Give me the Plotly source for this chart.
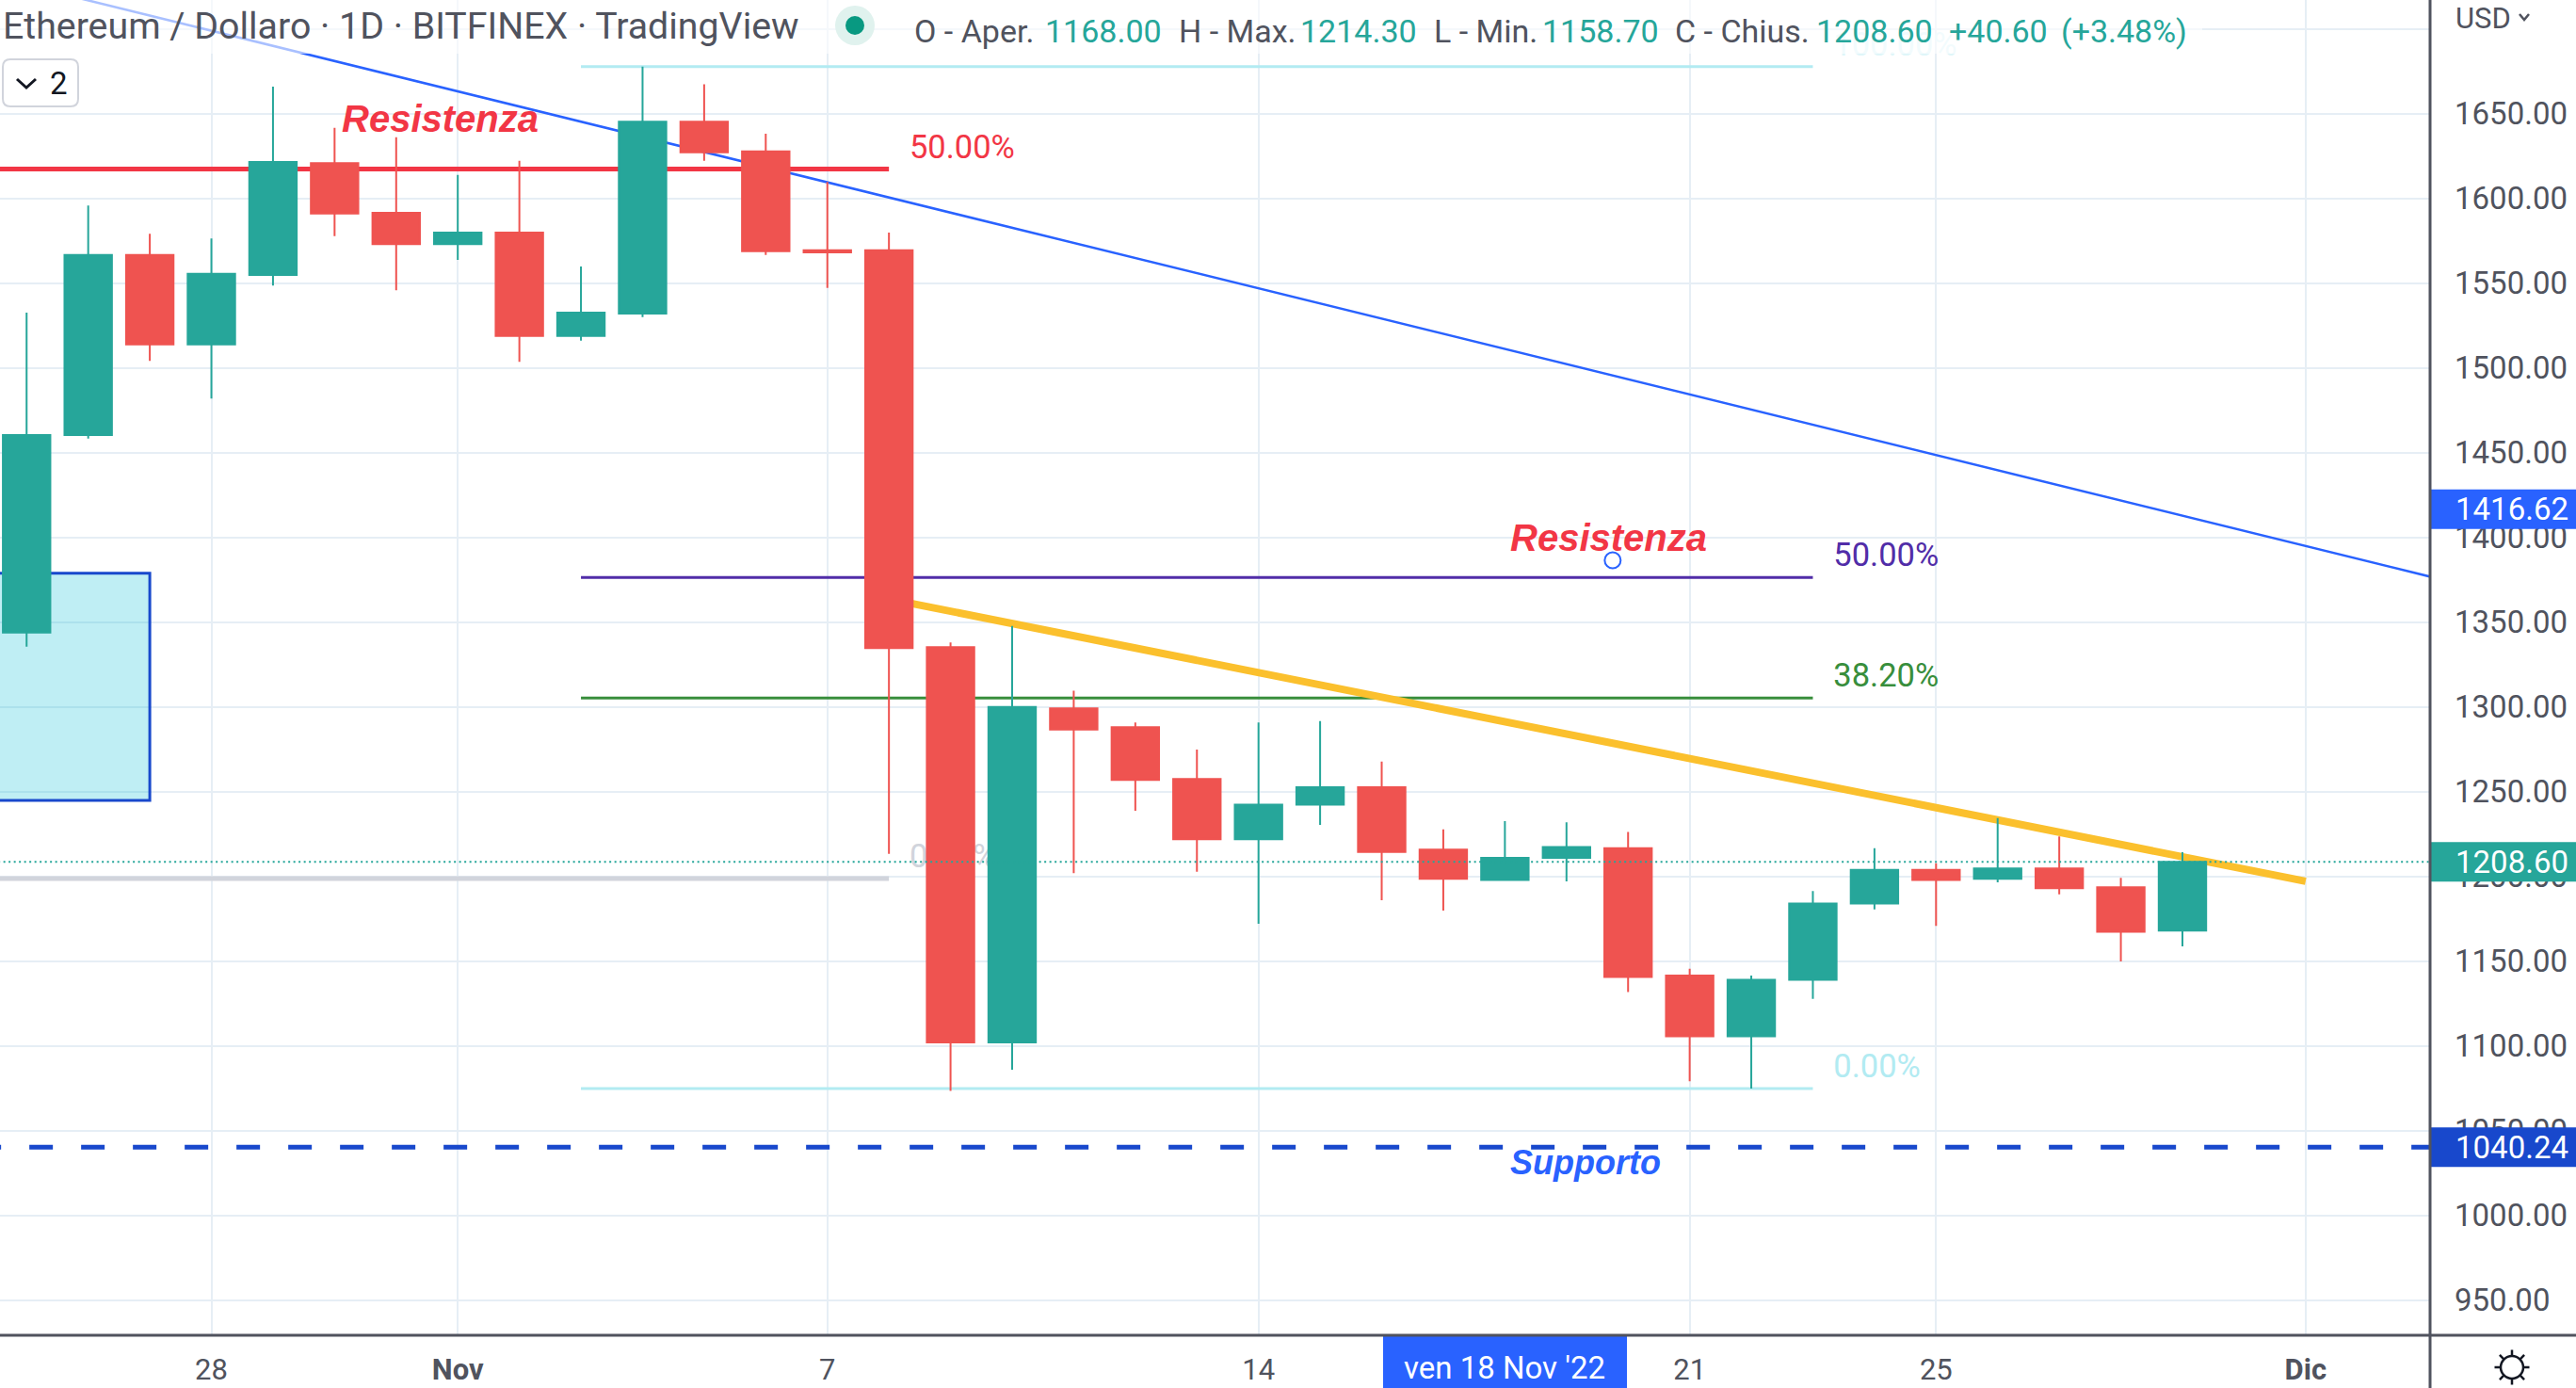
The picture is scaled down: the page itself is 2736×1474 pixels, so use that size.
import math

import pandas as pd
import plotly.graph_objects as graph_objects

WIDTH = 2736
HEIGHT = 1474
PLOT_WIDTH = 2581
PLOT_HEIGHT = 1418

# Daily candles
candle_dates = pd.date_range("2022-10-25", "2022-11-29", freq="D")
open_prices = [1343.9, 1460.4, 1566.7, 1513.9, 1554.8, 1620.8, 1591.5, 1573.0, 1579.8, 1518.9, 1532.0, 1645.2,
               1627.8, 1569.4, 1569.4, 1335.3, 1102.1, 1299.2, 1288.1, 1257.5, 1222.0, 1242.3, 1252.6, 1215.8,
               1197.9, 1210.9, 1216.6, 1141.5, 1105.7, 1139.0, 1184.0, 1203.9, 1198.6, 1204.7, 1193.6, 1168.0]
high_prices = [1532.6, 1595.8, 1579.1, 1576.3, 1666.0, 1641.7, 1636.1, 1613.9, 1622.2, 1559.8, 1677.8, 1667.4,
               1638.2, 1609.7, 1579.8, 1338.0, 1347.8, 1309.6, 1290.8, 1274.9, 1290.8, 1291.6, 1267.8, 1227.7,
               1232.6, 1232.0, 1226.3, 1145.6, 1141.5, 1191.4, 1216.6, 1207.8, 1234.5, 1223.6, 1199.2, 1214.3]
low_prices = [1335.6, 1458.3, 1504.1, 1481.9, 1548.6, 1577.8, 1545.8, 1563.7, 1503.6, 1516.1, 1530.0, 1622.2,
              1566.7, 1547.2, 1213.3, 1073.5, 1086.0, 1201.9, 1238.8, 1202.7, 1172.1, 1230.4, 1186.0, 1179.9,
              1197.9, 1197.1, 1131.8, 1079.1, 1074.9, 1127.7, 1180.5, 1170.8, 1196.5, 1189.5, 1149.9, 1158.7]
close_prices = [1460.4, 1566.7, 1513.9, 1555.6, 1621.5, 1591.1, 1573.0, 1579.8, 1518.9, 1532.6, 1645.2, 1627.2,
                1568.9, 1568.2, 1334.7, 1102.1, 1300.0, 1286.7, 1256.9, 1222.0, 1242.3, 1252.6, 1214.4, 1198.6,
                1210.9, 1217.3, 1140.7, 1105.7, 1139.0, 1184.0, 1203.9, 1197.9, 1204.7, 1193.0, 1167.3, 1208.6]

# Axis ticks
x_tick_dates = ["2022-10-28", "2022-11-01", "2022-11-07", "2022-11-14", "2022-11-21", "2022-11-25", "2022-12-01"]
x_tick_labels = ["28", "<b>Nov</b>", "7", "14", "21", "25", "<b>Dic</b>"]
y_tick_values = [950, 1000, 1050, 1100, 1150, 1200, 1250, 1300, 1350, 1400, 1450, 1500, 1550, 1600, 1650, 1700]
y_tick_labels = [f"{v:.2f}" for v in y_tick_values[:-1]] + [""]

# Drawings on the chart
blue_trend_dates = ["2022-10-24", "2022-12-04"]
blue_trend_prices = [1734.7, 1368.1]
yellow_trend_dates = ["2022-11-08", "2022-12-01"]
yellow_trend_prices = [1363.7, 1197.1]
resistance_dates = ["2022-10-20", "2022-11-08"]
resistance_price = 1617.4
grey_level_price = 1198.7
support_price = 1040.24
last_price = 1208.60
blue_label_price = 1416.62
zone_dates = ["2022-10-20", "2022-10-27", "2022-10-27", "2022-10-20"]
zone_prices = [1378.9, 1378.9, 1244.8, 1244.8]
fib_dates = ["2022-11-03", "2022-11-23"]
fib_prices = [1677.8, 1376.4, 1305.2, 1074.9]
fib_labels = ["100.00%", "50.00%", "38.20%", "0.00%"]
fib_line_colors = ["#b2ebf2", "#512da8", "#388e3c", "#b2ebf2"]
fib_text_colors = ["#dff6f9", "#512da8", "#388e3c", "#b2ebf2"]
full_width_dates = ["2022-10-20", "2022-12-05"]

GREEN = "#26a69a"
RED = "#ef5350"
TEXT = "#50535e"
GRID = "#e6eef5"
BLUE = "#2962ff"
DARK_BLUE = "#1848cc"
LINE_RED = "#f23645"
INK = "#131722"
FONT = "Roboto"
LABEL_FONT = "Liberation Sans"
LABEL_LIFT = 1.8  # fib labels sit this many price units above their line


def paper_x(pixel):
    # paper coordinates follow the plot area, not the page
    return pixel / PLOT_WIDTH


def paper_y(pixel):
    return 1 - pixel / PLOT_HEIGHT


def paper_point(x_pixel, y_pixel):
    return f"{paper_x(x_pixel)} {paper_y(y_pixel)}"


def line_trace(x_values, y_values, color, width, dash="solid", yaxis="y"):
    return graph_objects.Scatter(
        x=x_values, y=y_values, mode="lines", yaxis=yaxis, hoverinfo="skip",
        line=dict(color=color, width=width, dash=dash),
    )


def text_trace(date, price, label, color, size=34.5):
    return graph_objects.Scatter(
        x=[date], y=[price + LABEL_LIFT], mode="text", text=[label], textposition="top right", hoverinfo="skip",
        textfont=dict(family=FONT, size=size, color=color),
    )


def gear_path(center_x, center_y, inner, outer):
    parts = []
    for step in range(8):
        angle = step * math.pi / 4
        parts.append("M " + paper_point(center_x + inner * math.cos(angle), center_y + inner * math.sin(angle)))
        parts.append("L " + paper_point(center_x + outer * math.cos(angle), center_y + outer * math.sin(angle)))
    return " ".join(parts)


def rounded_rect_path(left, top, right, bottom, radius):
    return (
        f"M {paper_point(left + radius, top)} L {paper_point(right - radius, top)} "
        f"Q {paper_point(right, top)} {paper_point(right, top + radius)} L {paper_point(right, bottom - radius)} "
        f"Q {paper_point(right, bottom)} {paper_point(right - radius, bottom)} L {paper_point(left + radius, bottom)} "
        f"Q {paper_point(left, bottom)} {paper_point(left, bottom - radius)} L {paper_point(left, top + radius)} "
        f"Q {paper_point(left, top)} {paper_point(left + radius, top)} Z"
    )


fig = graph_objects.Figure()

# Everything behind the candles stays on the base y axis
fig.add_trace(graph_objects.Scatter(
    x=zone_dates, y=zone_prices, mode="lines", fill="toself", fillcolor="rgba(0,188,212,0.25)",
    line=dict(color=DARK_BLUE, width=3), hoverinfo="skip",
))
for price, color in zip(fib_prices, fib_line_colors):
    fig.add_trace(line_trace(fib_dates, [price, price], color, 3))
for price, label, color in zip(fib_prices, fib_labels, fib_text_colors):
    fig.add_trace(text_trace("2022-11-23 08:00", price, label, color))
fig.add_trace(line_trace(resistance_dates, [resistance_price, resistance_price], LINE_RED, 5))
fig.add_trace(text_trace("2022-11-08 08:00", resistance_price, "50.00%", LINE_RED))
fig.add_trace(line_trace(resistance_dates, [grey_level_price, grey_level_price], "#d1d4dc", 5))
fig.add_trace(text_trace("2022-11-08 08:00", grey_level_price, "0.00%", "#d1d4dc"))
fig.add_trace(line_trace(blue_trend_dates, blue_trend_prices, BLUE, 2.5))
fig.add_trace(line_trace(yellow_trend_dates, yellow_trend_prices, "#fbc02d", 8))
fig.add_trace(line_trace(full_width_dates, [support_price, support_price], DARK_BLUE, 5, "25px,30px"))
fig.add_trace(graph_objects.Scatter(
    x=["2022-11-19 18:00"], y=[1386.5], mode="markers", hoverinfo="skip",
    marker=dict(color="white", size=17, line=dict(color=BLUE, width=2)),
))

# Candles on an overlaid y axis, since box layers sit under scatter layers
fig.add_trace(graph_objects.Candlestick(
    x=candle_dates, open=open_prices, high=high_prices, low=low_prices, close=close_prices, yaxis="y2",
    increasing=dict(line=dict(color=GREEN, width=2), fillcolor=GREEN),
    decreasing=dict(line=dict(color=RED, width=2), fillcolor=RED),
    hoverinfo="skip",
))
fig.add_trace(line_trace(full_width_dates, [last_price, last_price], GREEN, 2, "2px,3.5px", yaxis="y2"))

# Shapes: legend veil, button, axis frame, price boxes
shapes = [
    dict(type="rect", xref="paper", yref="paper", x0=0, x1=paper_x(2339), y0=paper_y(57), y1=1,
         fillcolor="rgba(255,255,255,0.6)", line=dict(width=0), layer="above"),
    dict(type="circle", xref="paper", yref="paper", x0=paper_x(887), x1=paper_x(929), y0=paper_y(48), y1=paper_y(6),
         fillcolor="#e0f2ee", line=dict(width=0), layer="above"),
    dict(type="circle", xref="paper", yref="paper", x0=paper_x(898), x1=paper_x(918), y0=paper_y(37), y1=paper_y(17),
         fillcolor="#089981", line=dict(width=0), layer="above"),
    dict(type="path", xref="paper", yref="paper", layer="above", fillcolor="white", line=dict(color="#d1d4dc", width=2),
         path=rounded_rect_path(3, 63, 83, 113, 8)),
    dict(type="path", xref="paper", yref="paper", layer="above", line=dict(color=INK, width=3),
         path=f"M {paper_point(18, 84)} L {paper_point(28, 93)} L {paper_point(38, 84)}"),
    dict(type="path", xref="paper", yref="paper", layer="above", line=dict(color=TEXT, width=2.5),
         path=f"M {paper_point(2676, 15)} L {paper_point(2681, 21)} L {paper_point(2686, 15)}"),
    dict(type="rect", xref="paper", yref="paper", x0=paper_x(1469), x1=paper_x(1728), y0=paper_y(HEIGHT), y1=paper_y(1418),
         fillcolor=BLUE, line=dict(width=0), layer="above"),
    dict(type="circle", xref="paper", yref="paper", x0=paper_x(2656), x1=paper_x(2680), y0=paper_y(1464), y1=paper_y(1440),
         fillcolor="white", line=dict(color=INK, width=2.5), layer="above"),
    dict(type="path", xref="paper", yref="paper", layer="above", line=dict(color=INK, width=2.5),
         path=gear_path(2668, 1452, 12, 18.5)),
]
for price, color in [(blue_label_price, BLUE), (last_price, GREEN), (support_price, DARK_BLUE)]:
    shapes.append(dict(type="rect", xref="paper", yref="y", x0=paper_x(2581), x1=paper_x(WIDTH), ysizemode="pixel",
                       yanchor=price, y0=-21, y1=21, fillcolor=color, line=dict(width=0), layer="above"))
shapes.append(dict(type="line", xref="paper", yref="paper", x0=0, x1=paper_x(WIDTH), y0=paper_y(1418), y1=paper_y(1418),
                   line=dict(color=TEXT, width=3), layer="above"))
shapes.append(dict(type="line", xref="paper", yref="paper", x0=paper_x(2581), x1=paper_x(2581), y0=paper_y(HEIGHT), y1=1,
                   line=dict(color=TEXT, width=3), layer="above"))


def pixel_text(text, x_pixel, y_pixel, color=TEXT, size=34, anchor="left", family=FONT):
    return dict(text=text, xref="paper", yref="paper", x=paper_x(x_pixel), y=paper_y(y_pixel), showarrow=False,
                xanchor=anchor, yanchor="middle", font=dict(family=family, size=size, color=color))


def chart_text(text, date, price, color, size):
    return dict(text=f"<b><i>{text}</i></b>", x=date, y=price, xref="x", yref="y", showarrow=False, xanchor="left",
                yanchor="middle", font=dict(family=LABEL_FONT, size=size, color=color))


annotations = [
    pixel_text("Ethereum / Dollaro · 1D · BITFINEX · TradingView", 1, 28, size=39.3),
    pixel_text("O - Aper.", 969, 33),
    pixel_text("1168.00", 1108, 33, GREEN),
    pixel_text("H - Max.", 1250, 33),
    pixel_text("1214.30", 1379, 33, GREEN),
    pixel_text("L - Min.", 1521, 33),
    pixel_text("1158.70", 1636, 33, GREEN),
    pixel_text("C - Chius.", 1777, 33),
    pixel_text("1208.60", 1927, 33, GREEN),
    pixel_text("+40.60", 2068, 33, GREEN),
    pixel_text("(+3.48%)", 2187, 33, GREEN),
    pixel_text("USD", 2606, 20, size=31),
    pixel_text("2", 62, 88, INK, 33, "center"),
    pixel_text("ven 18 Nov '22", 1598, 1452, "white", 33, "center"),
    chart_text("Resistenza", "2022-10-30 02:00", 1647, LINE_RED, 40),
    chart_text("Resistenza", "2022-11-18 01:30", 1399.8, LINE_RED, 40),
    chart_text("Supporto", "2022-11-18 01:30", 1031, BLUE, 36),
]
for price, label in [(blue_label_price, "1416.62"), (last_price, "1208.60"), (support_price, "1040.24")]:
    annotations.append(dict(text=label, xref="paper", yref="y", x=paper_x(2606), y=price, showarrow=False, xanchor="left",
                            yanchor="middle", font=dict(family=FONT, size=33, color="white")))

y_range = [929.3, 1717.06]
fig.update_layout(
    width=WIDTH,
    height=HEIGHT,
    margin=dict(l=0, r=155, t=0, b=56),
    paper_bgcolor="white",
    plot_bgcolor="white",
    showlegend=False,
    boxgap=0.23,
    boxgroupgap=0,
    xaxis=dict(
        type="date",
        range=["2022-10-24 13:38", "2022-12-03 00:29"],
        rangeslider=dict(visible=False),
        tickmode="array",
        tickvals=x_tick_dates,
        ticktext=x_tick_labels,
        showgrid=True,
        gridcolor=GRID,
        gridwidth=2,
        zeroline=False,
        ticks="",
        tickangle=0,
        ticklabelstandoff=15,
        tickfont=dict(family=FONT, size=31, color=TEXT),
    ),
    yaxis=dict(
        range=y_range,
        side="right",
        tickmode="array",
        tickvals=y_tick_values,
        ticktext=y_tick_labels,
        showgrid=True,
        gridcolor=GRID,
        gridwidth=2,
        zeroline=False,
        ticks="",
        ticklabelstandoff=25,
        tickfont=dict(family=FONT, size=33, color=TEXT),
    ),
    yaxis2=dict(range=y_range, overlaying="y", side="right", visible=False),
    shapes=shapes,
    annotations=annotations,
)

fig.write_html("out.html", config=dict(displayModeBar=False),
               post_script="document.body.style.margin='0';document.body.style.overflow='hidden';")
